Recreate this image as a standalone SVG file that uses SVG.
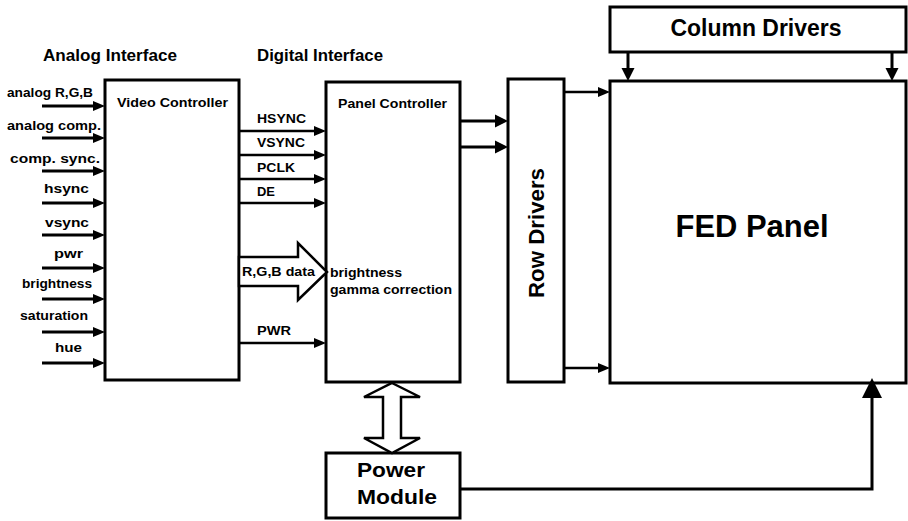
<svg xmlns="http://www.w3.org/2000/svg" width="908" height="521" viewBox="0 0 908 521">
<style>
  .box { fill: #fff; stroke: #000; stroke-width: 3; }
  .t { font-family: "Liberation Sans", Arial, sans-serif; font-weight: bold; fill: #000; }
  .s { font-size: 12.5px; }
  .m { font-size: 13px; }
  .h { font-size: 17px; }
  .ln { fill: none; stroke: #000; stroke-width: 3; }
  .ln2 { fill: none; stroke: #000; stroke-width: 2.5; }
  .fat { fill: #fff; stroke: #000; stroke-width: 2.5; stroke-linejoin: miter; }
</style>
<defs>
  <marker id="a" markerUnits="userSpaceOnUse" markerWidth="14" markerHeight="12" refX="4" refY="5" orient="auto" overflow="visible">
    <path d="M0,0 L12,5 L0,10 z" fill="#000"/>
  </marker>
  <marker id="b" markerUnits="userSpaceOnUse" markerWidth="16" markerHeight="16" refX="5" refY="6.5" orient="auto" overflow="visible">
    <path d="M0,0 L13,6.5 L0,13 z" fill="#000"/>
  </marker>
  <marker id="c" markerUnits="userSpaceOnUse" markerWidth="24" markerHeight="24" refX="6" refY="10" orient="auto" overflow="visible">
    <path d="M0,0 L20,10 L0,20 z" fill="#000"/>
  </marker>
</defs>
<rect width="908" height="521" fill="#fff"/>

<g id="headers">
  <text class="t h" x="43" y="61" textLength="134" lengthAdjust="spacingAndGlyphs">Analog Interface</text>
  <text class="t h" x="257" y="61" textLength="126" lengthAdjust="spacingAndGlyphs">Digital Interface</text>
</g>

<g id="inputs">
  <text class="t s" x="7" y="97" textLength="86" lengthAdjust="spacingAndGlyphs">analog R,G,B</text>
  <text class="t s" x="7" y="130" textLength="94" lengthAdjust="spacingAndGlyphs">analog comp.</text>
  <text class="t s" x="10" y="163" textLength="90" lengthAdjust="spacingAndGlyphs">comp. sync.</text>
  <text class="t s" x="44" y="193" textLength="45" lengthAdjust="spacingAndGlyphs">hsync</text>
  <text class="t s" x="45" y="227" textLength="44" lengthAdjust="spacingAndGlyphs">vsync</text>
  <text class="t s" x="54" y="258" textLength="29" lengthAdjust="spacingAndGlyphs">pwr</text>
  <text class="t s" x="22" y="288" textLength="70" lengthAdjust="spacingAndGlyphs">brightness</text>
  <text class="t s" x="20" y="320" textLength="68" lengthAdjust="spacingAndGlyphs">saturation</text>
  <text class="t s" x="55" y="352" textLength="27" lengthAdjust="spacingAndGlyphs">hue</text>
</g>

<g id="video-controller">
  <rect class="box" x="105" y="80" width="134" height="300"/>
  <text class="t" font-size="13.5" x="117" y="107" textLength="111" lengthAdjust="spacingAndGlyphs">Video Controller</text>
</g>

<g id="panel-controller">
  <rect class="box" x="326" y="82" width="134" height="300"/>
  <text class="t" font-size="13.5" x="338" y="108" textLength="109" lengthAdjust="spacingAndGlyphs">Panel Controller</text>
  <text class="t s" x="330" y="277" textLength="72" lengthAdjust="spacingAndGlyphs">brightness</text>
  <text class="t s" x="330" y="294" textLength="122" lengthAdjust="spacingAndGlyphs">gamma correction</text>
</g>

<g id="row-drivers">
  <rect class="box" x="508" y="79" width="56" height="303"/>
  <text class="t" font-size="22" transform="translate(544,233) rotate(-90)" x="0" y="0" text-anchor="middle" textLength="130" lengthAdjust="spacingAndGlyphs">Row Drivers</text>
</g>

<g id="column-drivers">
  <rect class="box" x="610" y="7" width="296" height="45"/>
  <text class="t" font-size="23" x="756" y="36" text-anchor="middle" textLength="171" lengthAdjust="spacingAndGlyphs">Column Drivers</text>
</g>

<g id="fed-panel">
  <rect class="box" x="610" y="81" width="296" height="302"/>
  <text class="t" font-size="31" x="752" y="237" text-anchor="middle" textLength="153" lengthAdjust="spacingAndGlyphs">FED Panel</text>
</g>

<g id="power-module">
  <rect class="box" x="326" y="453" width="134" height="65"/>
  <text class="t" font-size="21" x="357" y="477" textLength="68" lengthAdjust="spacingAndGlyphs">Power</text>
  <text class="t" font-size="21" x="357" y="504" textLength="80" lengthAdjust="spacingAndGlyphs">Module</text>
</g>

<g id="connectors">
  <!-- analog inputs -->
  <line class="ln" x1="42" y1="106" x2="97" y2="106" marker-end="url(#a)"/>
  <line class="ln" x1="42" y1="138" x2="97" y2="138" marker-end="url(#a)"/>
  <line class="ln" x1="42" y1="171" x2="97" y2="171" marker-end="url(#a)"/>
  <line class="ln" x1="42" y1="203" x2="97" y2="203" marker-end="url(#a)"/>
  <line class="ln" x1="42" y1="235" x2="97" y2="235" marker-end="url(#a)"/>
  <line class="ln" x1="42" y1="268" x2="97" y2="268" marker-end="url(#a)"/>
  <line class="ln" x1="42" y1="299" x2="97" y2="299" marker-end="url(#a)"/>
  <line class="ln" x1="42" y1="332" x2="97" y2="332" marker-end="url(#a)"/>
  <line class="ln" x1="42" y1="363" x2="97" y2="363" marker-end="url(#a)"/>

  <!-- digital interface -->
  <line class="ln2" x1="239" y1="131" x2="318" y2="131" marker-end="url(#a)"/>
  <line class="ln2" x1="239" y1="155" x2="318" y2="155" marker-end="url(#a)"/>
  <line class="ln2" x1="239" y1="179" x2="318" y2="179" marker-end="url(#a)"/>
  <line class="ln2" x1="239" y1="203" x2="318" y2="203" marker-end="url(#a)"/>
  <line class="ln2" x1="239" y1="343" x2="318" y2="343" marker-end="url(#a)"/>
  <text class="t m" x="257" y="123" textLength="49" lengthAdjust="spacingAndGlyphs">HSYNC</text>
  <text class="t m" x="257" y="147" textLength="48" lengthAdjust="spacingAndGlyphs">VSYNC</text>
  <text class="t m" x="257" y="172" textLength="38" lengthAdjust="spacingAndGlyphs">PCLK</text>
  <text class="t m" x="257" y="196" textLength="18" lengthAdjust="spacingAndGlyphs">DE</text>
  <text class="t m" x="257" y="335" textLength="34" lengthAdjust="spacingAndGlyphs">PWR</text>

  <!-- R,G,B data fat arrow -->
  <polygon class="fat" points="239,257 298,257 298,243 327,272 298,300 298,286 239,286"/>
  <text class="t s" x="242" y="276" textLength="73" lengthAdjust="spacingAndGlyphs">R,G,B data</text>

  <!-- panel controller to row drivers -->
  <line class="ln" x1="460" y1="121" x2="500" y2="121" marker-end="url(#b)"/>
  <line class="ln" x1="460" y1="147" x2="500" y2="147" marker-end="url(#b)"/>

  <!-- row drivers to FED panel -->
  <line class="ln2" x1="564" y1="92" x2="602" y2="92" marker-end="url(#a)"/>
  <line class="ln2" x1="564" y1="368" x2="602" y2="368" marker-end="url(#a)"/>

  <!-- column drivers to FED panel -->
  <line class="ln" x1="628" y1="52" x2="628" y2="73" marker-end="url(#b)"/>
  <line class="ln" x1="892" y1="52" x2="892" y2="73" marker-end="url(#b)"/>

  <!-- panel controller <-> power module -->
  <polygon class="fat" stroke-width="3" points="392,383 420,397 401,397 401,438 420,438 392,453 364,438 383,438 383,397 364,397"/>

  <!-- power module to FED panel -->
  <path class="ln" d="M460,489 H872 V392" marker-end="url(#c)"/>
</g>
</svg>
